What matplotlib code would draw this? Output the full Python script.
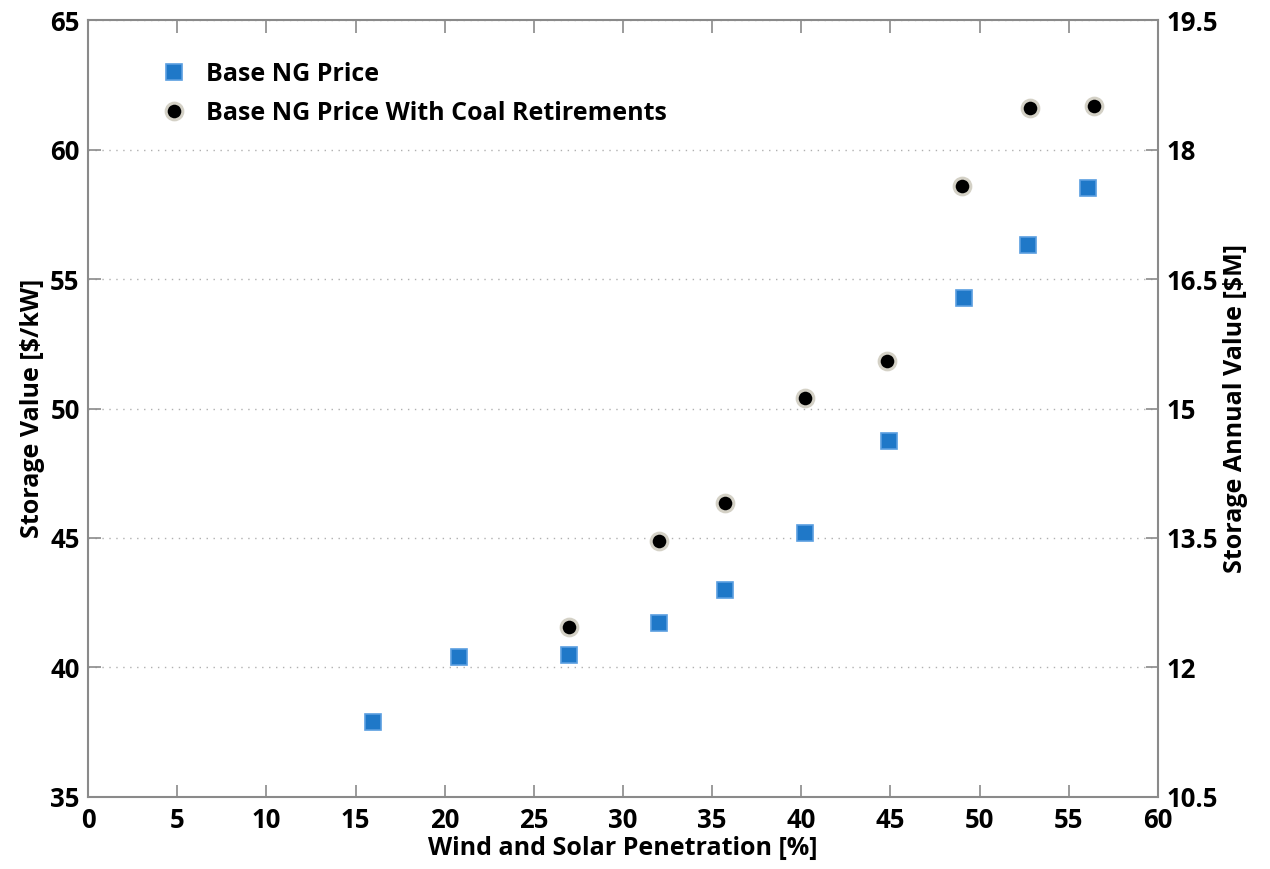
import matplotlib
matplotlib.use("Agg")
import matplotlib.pyplot as plt

# data
pen_base = [16.0, 20.8, 27.0, 32.0, 35.7, 40.2, 44.9, 49.1, 52.7, 56.1]
val_base = [37.9, 40.4, 40.5, 41.7, 43.0, 45.2, 48.75, 54.25, 56.3, 58.5]
pen_coal = [27.0, 32.0, 35.7, 40.2, 44.8, 49.0, 52.8, 56.4]
val_coal = [41.55, 44.9, 46.35, 50.4, 51.85, 58.6, 61.6, 61.7]

left_ticks = [35, 40, 45, 50, 55, 60, 65]
right_labels = ['10.5', '12', '13.5', '15', '16.5', '18', '19.5']
x_ticks = list(range(0, 61, 5))

plt.rcParams['font.family'] = ['Open Sans', 'DejaVu Sans']
plt.rcParams['font.weight'] = 'bold'
plt.rcParams['axes.labelweight'] = 'bold'

fig = plt.figure(figsize=(12.7, 8.69), dpi=100)
ax = fig.add_axes([0.0693, 0.0829, 0.8425, 0.894])

ax.plot(pen_base, val_base, 's', ms=12, color='#1f78c8', mec='#5a9ee0', mew=1.2,
        label='Base NG Price', zorder=3)
ax.plot(pen_coal, val_coal, 'o', ms=12, color='black', mec='#d4d1c6', mew=2.2,
        label='Base NG Price With Coal Retirements', zorder=3)

ax.set_xlim(0, 60)
ax.set_ylim(35, 65)
ax.set_xticks(x_ticks)
ax.set_yticks(left_ticks)
ax.yaxis.grid(True, linestyle=(0, (1, 4)), color='#b0b0b0', linewidth=1)
ax.set_axisbelow(True)

for s in ax.spines.values():
    s.set_color('#8a8a8a')
    s.set_linewidth(1.5)
ax.tick_params(direction='in', length=9, width=1.2, color='#8a8a8a',
               labelsize=18.5, top=True)
ax.tick_params(axis='x', pad=7)
ax.tick_params(axis='y', right=False, pad=6)

ax.set_xlabel('Wind and Solar Penetration [%]', fontsize=18, labelpad=2)
ax.set_ylabel('Storage Value [$/kW]', fontsize=18, labelpad=4)

ax2 = ax.twinx()
ax2.set_ylim(35, 65)
ax2.set_yticks(left_ticks)
ax2.set_yticklabels(right_labels)
ax2.tick_params(direction='in', length=9, width=1.2, color='#8a8a8a',
                labelsize=18.5, pad=6)
for s in ax2.spines.values():
    s.set_visible(False)
ax2.set_ylabel('Storage Annual Value [$M]', fontsize=18, labelpad=4)

leg = ax.legend(loc='upper left', bbox_to_anchor=(0.048, 0.975), frameon=False,
                fontsize=18, handlelength=1.0, handletextpad=0.75,
                labelspacing=0.55, numpoints=1)

fig.savefig('out.png', dpi=100)
